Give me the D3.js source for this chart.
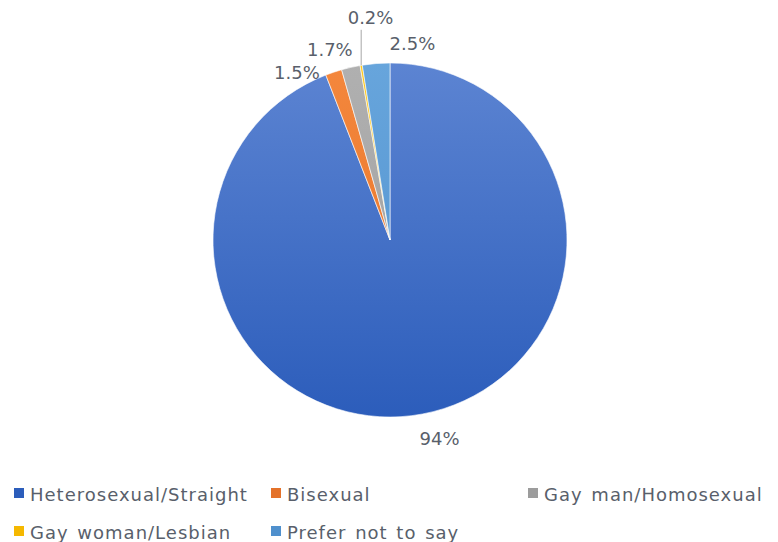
<!DOCTYPE html>
<html>
<head>
<meta charset="utf-8">
<script src="https://cdn.jsdelivr.net/npm/d3@7"></script>
<style>
	body { margin: 0; background: #fff; }
	text { font-family: "DejaVu Sans", sans-serif; fill: #595f6b; }
</style>
</head>
<body>
<div id="chart"></div>
<script>
var categories = ["Heterosexual/Straight", "Bisexual", "Gay man/Homosexual", "Gay woman/Lesbian", "Prefer not to say"];
var values = [94, 1.5, 1.7, 0.2, 2.5];
var valueLabels = ["94%", "1.5%", "1.7%", "0.2%", "2.5%"];

// slice colours: [top of gradient, bottom of gradient]
var colors = [["#5c84d2", "#2c5dbb"], ["#f4873c", "#e4722a"], ["#b0b0b0", "#9c9c9c"], ["#ffc81a", "#f5b800"], ["#67a5dc", "#4f90cd"]];

var width = 778, height = 542;
var cx = 390, cy = 240, radius = 177;

// label placement, polar around the centre (degrees clockwise from 12 o'clock, distance)
var labelAt = [[166, 205], [-29, 192], [-17.5, 200], [-5, 223], [6.5, 198]];

var svg = d3.select("#chart")
	.append("svg")
		.attr("width", width)
		.attr("height", height);

var defs = svg.append("defs");
colors.forEach((c, i) => {
	var g = defs.append("linearGradient")
		.attr("id", "grad" + i)
		.attr("gradientUnits", "userSpaceOnUse")
		.attr("x1", 0).attr("y1", -radius)
		.attr("x2", 0).attr("y2", radius);
	g.append("stop").attr("offset", "0%").attr("stop-color", c[0]);
	g.append("stop").attr("offset", "100%").attr("stop-color", c[1]);
});

var arcs = d3.pie()
	.sort(null)
	.value(d => d)
	(values);

var arc = d3.arc()
	.innerRadius(0)
	.outerRadius(radius);

svg.append("g")
	.attr("transform", "translate(" + cx + "," + cy + ")")
	.selectAll("path")
	.data(arcs)
	.enter()
		.append("path")
		.attr("d", arc)
		.attr("fill", (d, i) => "url(#grad" + i + ")")
		.attr("stroke", "#fff")
		.attr("stroke-width", 0.6);

function polar(a, r) {
	var rad = a * Math.PI / 180;
	return [cx + Math.sin(rad) * r, cy - Math.cos(rad) * r];
}

// leader line for the tiny 0.2% slice
var tiny = arcs[3];
var mid = (tiny.startAngle + tiny.endAngle) / 2 * 180 / Math.PI;
var p0 = polar(mid, radius);
var p1 = polar(labelAt[3][0], labelAt[3][1] - 12);
svg.append("line")
	.attr("x1", p0[0]).attr("y1", p0[1])
	.attr("x2", p0[0]).attr("y2", p1[1])
	.attr("stroke", "#a6a6a6")
	.attr("stroke-width", 1);

svg.append("g")
	.selectAll("text")
	.data(valueLabels)
	.enter()
		.append("text")
		.attr("x", (d, i) => polar(labelAt[i][0], labelAt[i][1])[0])
		.attr("y", (d, i) => polar(labelAt[i][0], labelAt[i][1])[1])
		.attr("text-anchor", "middle")
		.attr("dominant-baseline", "central")
		.attr("font-size", 18)
		.text(d => d);

// legend
var legendX = [14, 271, 528, 14, 271];
var legendY = [494, 494, 494, 532, 532];
var legend = svg.append("g")
	.selectAll("g")
	.data(categories)
	.enter()
		.append("g")
		.attr("transform", (d, i) => "translate(" + legendX[i] + "," + legendY[i] + ")");

legend.append("rect")
	.attr("x", 0).attr("y", -6)
	.attr("width", 10).attr("height", 10)
	.attr("fill", (d, i) => colors[i][1]);

legend.append("text")
	.attr("x", 16)
	.attr("y", 0)
	.attr("dominant-baseline", "central")
	.attr("font-size", 18)
	.attr("letter-spacing", 1)
	.attr("word-spacing", 2)
	.text(d => d);
</script>
</body>
</html>
